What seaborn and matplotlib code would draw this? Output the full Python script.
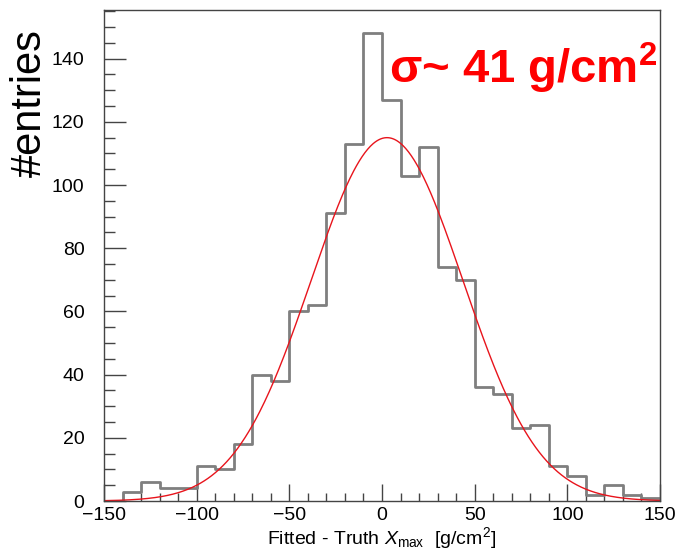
import numpy as np
import pandas as pd
import seaborn as sns
import matplotlib
matplotlib.use("Agg")
import matplotlib.pyplot as plt
from matplotlib.ticker import MultipleLocator

# ---- data ----
bin_edges = list(range(-150, 151, 10))
bin_centers = [e + 5 for e in bin_edges[:-1]]
counts = [0, 3, 6, 4, 4, 11, 10, 18, 40, 38,
          60, 62, 91, 113, 148, 127, 103, 112, 74, 70,
          36, 34, 23, 24, 11, 8, 2, 5, 2, 1]
fit_amp = 115.0
fit_mean = 2.7
fit_sigma = 41.0
x_label = r"Fitted - Truth $\mathit{X}_{\mathrm{max}}$  [g/cm$^{2}$]"
y_label = "#entries"
annotation = r"σ~ 41 g/cm$^{\mathbf{2}}$"

sns.set_theme(style="white")
plt.rcParams["font.family"] = ["Liberation Sans", "DejaVu Sans"]
plt.rcParams["mathtext.fontset"] = "custom"
plt.rcParams["mathtext.rm"] = "Liberation Sans"
plt.rcParams["mathtext.it"] = "Liberation Sans:italic"
plt.rcParams["mathtext.bf"] = "Liberation Sans:bold"
plt.rcParams["text.color"] = "black"
plt.rcParams["axes.labelcolor"] = "black"

df = pd.DataFrame({"x": bin_centers, "w": counts})

fig = plt.figure(figsize=(6.83, 5.49), dpi=100)
ax = fig.add_axes([104 / 683, 48 / 549, 556 / 683, 491 / 549])

sns.histplot(data=df, x="x", weights="w", bins=bin_edges, element="step",
             fill=False, color="#7f7f7f", linewidth=2.0, ax=ax)

xf = np.linspace(-150, 150, 600)
yf = fit_amp * np.exp(-0.5 * ((xf - fit_mean) / fit_sigma) ** 2)
sns.lineplot(x=xf, y=yf, color="#e8141c", linewidth=1.0, ax=ax)

ax.set_xlim(-150, 150)
ax.set_ylim(0, 155.4)
ax.xaxis.set_major_locator(MultipleLocator(50))
ax.xaxis.set_minor_locator(MultipleLocator(10))
ax.yaxis.set_major_locator(MultipleLocator(20))
ax.yaxis.set_minor_locator(MultipleLocator(5))
ax.tick_params(axis="both", which="both", direction="in", top=False, right=False,
               bottom=True, left=True, labelsize=14, colors="black",
               color="#444444")
ax.tick_params(axis="x", which="major", length=12, width=1, pad=4)
ax.tick_params(axis="x", which="minor", length=6, width=1)
ax.tick_params(axis="y", which="major", length=16, width=1, pad=14)
ax.tick_params(axis="y", which="minor", length=8, width=1)
ax.set_xticks([-150, -100, -50, 0, 50, 100, 150])
ax.set_xticklabels(["\u2212150", "\u2212100", "\u221250", "0", "50", "100", "150"])
for s in ax.spines.values():
    s.set_color("#444444")
    s.set_linewidth(1.0)

ax.set_xlabel(x_label, fontsize=14, labelpad=1)
ax.set_ylabel("")
fig.text(30 / 683, 1 - 103 / 549, y_label, rotation=90, fontsize=30,
         ha="center", va="center", color="black")
ax.text(0.513, 0.88, annotation, transform=ax.transAxes, color="#ff0000",
        fontsize=34, fontweight="bold", ha="left", va="center")

fig.savefig("out.png", dpi=100)
